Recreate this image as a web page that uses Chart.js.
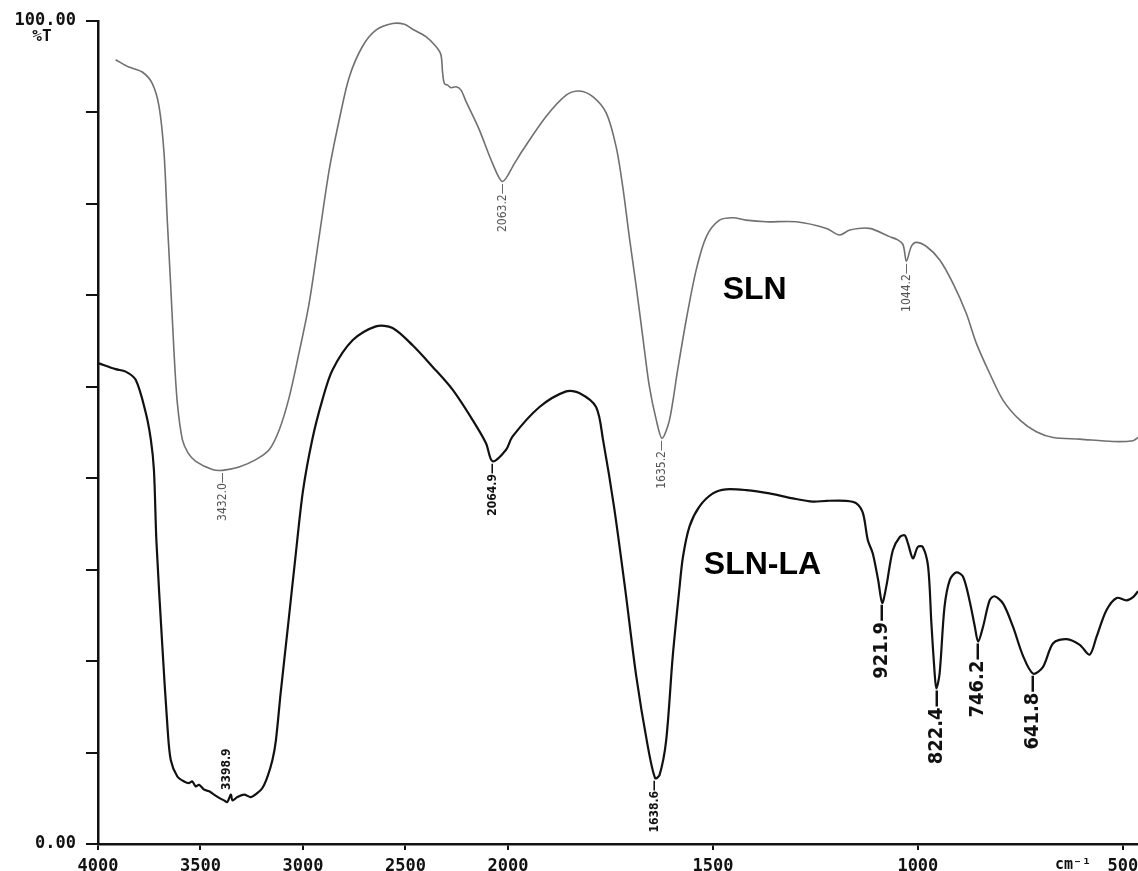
<!DOCTYPE html>
<html><head><meta charset="utf-8">
<script src="https://cdn.jsdelivr.net/npm/chart.js@4/dist/chart.umd.min.js"></script>
<style>html,body{margin:0;padding:0;background:#fff;} #wrap{width:1138px;height:871px;position:relative;}</style>
</head><body><div id="wrap"><canvas id="c" width="1138" height="871"></canvas></div>
<script>
// ---- data (wavenumber in cm-1, transmittance in %T) ----
const SLN_WAVENUMBER = [3914,3849,3784,3735,3702,3678,3662,3645,3629,3613,3588,3560,3523,3442,3393,3312,3230,3165,3116,3067,3019,2970,2921,2872,2823,2774,2710,2644,2563,2505,2465,2400,2351,2327,2319,2310,2294,2278,2253,2229,2204,2140,2075,2026,1984,1964,1907,1858,1826,1793,1760,1736,1720,1704,1687,1671,1655,1638,1624,1606,1586,1565,1541,1516,1484,1451,1419,1370,1297,1223,1191,1166,1118,1069,1049,1036,1028,1016,1004,979,947,914,882,857,825,792,751,711,670,605,524,475,463];
const SLN_T = [95.3,94.4,93.8,92.4,89.6,84.0,75.8,67.7,59.7,53.6,49.1,47.5,46.5,45.5,45.4,45.8,46.7,47.9,50.3,54.3,59.7,65.7,73.8,81.9,88.0,93.2,96.9,98.9,99.7,99.6,99.0,98.1,96.9,95.9,93.8,92.4,92.2,91.9,92.0,91.6,90.2,86.8,82.7,80.5,82.7,84.3,88.4,91.0,91.5,90.8,88.8,84.7,79.9,73.8,67.7,61.6,55.6,51.5,49.3,51.5,57.6,63.7,69.7,73.8,75.8,76.1,75.8,75.6,75.6,74.8,74.0,74.6,74.8,73.8,73.4,72.8,70.8,72.6,73.1,72.6,71.0,68.1,64.5,60.8,57.2,53.9,51.5,50.1,49.4,49.2,48.9,49.0,49.4];

const SLNLA_WAVENUMBER = [3995,3914,3865,3816,3767,3742,3727,3715,3687,3661,3645,3613,3580,3556,3540,3523,3507,3482,3458,3434,3409,3385,3369,3352,3344,3320,3287,3254,3222,3198,3173,3149,3132,3109,3073,3037,3000,2955,2906,2856,2758,2644,2563,2465,2368,2270,2172,2107,2075,2009,1989,1923,1858,1826,1785,1768,1741,1713,1687,1660,1641,1630,1614,1598,1582,1573,1557,1533,1500,1468,1419,1362,1305,1256,1223,1175,1150,1134,1122,1110,1097,1087,1077,1061,1044,1032,1024,1012,1000,988,975,967,959,955,947,935,922,906,890,874,861,853,841,825,813,792,768,743,719,695,670,637,605,581,564,540,515,491,475,463];
const SLNLA_T = [58.4,57.7,57.4,56.4,52.4,49.1,45.4,36.8,24.4,14.2,10.2,8.2,7.6,7.4,7.6,7.0,7.2,6.6,6.4,6.0,5.6,5.3,5.1,6.0,5.3,5.7,6.0,5.7,6.2,6.8,8.2,10.2,12.6,18.3,26.5,34.8,42.9,49.1,53.9,57.6,61.2,62.9,62.7,60.6,58.0,55.2,51.5,48.7,46.5,47.9,49.5,53.1,55.0,54.8,53.1,49.1,40.9,30.6,20.4,12.2,8.0,8.4,12.6,22.8,30.9,34.9,38.6,41.0,42.6,43.1,43.0,42.6,42.0,41.6,41.7,41.7,41.4,40.2,36.9,35.3,32.1,29.3,31.3,35.7,37.3,37.5,36.5,34.7,36.1,36.1,33.7,26.8,20.7,18.9,20.7,28.8,32.1,33.0,32.5,29.6,26.4,24.6,26.4,29.6,30.1,29.2,26.4,22.8,20.7,21.5,24.4,24.9,24.2,23.0,25.2,28.4,29.9,29.6,30.0,30.7];

const X_TICK_LABELS = [4000,3500,3000,2500,2000,1500,1000,500];
const X_START = 4000, X_END = 463;          // axis range in cm-1 (image cropped at right)
const X_BREAK = 2000, X_EXPAND = 2;         // scale doubles below 2000 cm-1
const Y_DIVISIONS = 9;

// peak annotations
const SLN_PEAK_LABELS = ['3432.0','2063.2','1635.2','1044.2'];
const SLN_PEAK_WN     = [3393,2026,1624,1028];
const SLN_PEAK_T      = [45.4,80.5,49.3,70.8];
const LA_SMALL_LABELS = ['2064.9','1638.6'];
const LA_SMALL_WN     = [2075,1641];
const LA_SMALL_T      = [46.5,8.0];
const LA_ABOVE_LABEL = '3398.9', LA_ABOVE_WN = 3369, LA_ABOVE_T = 5.1;
const LA_BOLD_LABELS = ['921.9','822.4','746.2','641.8'];
const LA_BOLD_WN     = [1087,955,853,719];
const LA_BOLD_T      = [29.3,18.9,24.6,20.7];
const SERIES_NAMES = ['SLN','SLN-LA'];
const SERIES_NAME_WN = [1398,1379];
const SERIES_NAME_T  = [67.3,33.9];

function toU(wn){ return wn >= X_BREAK ? (X_START - wn) : (X_START - X_BREAK) + (X_BREAK - wn) * X_EXPAND; }
function pts(wns, ts){ return wns.map((w,i)=>({x:toU(w), y:ts[i]})); }

const NARROW = "'Liberation Sans Narrow','DejaVu Sans Condensed','Liberation Sans',sans-serif";
const AXISFONT = "'DejaVu Sans Mono',monospace";

const textPlugin = {
  id:'texts',
  afterDraw(chart){
    const ctx = chart.ctx, xs = chart.scales.x, ys = chart.scales.y;
    const px = w => xs.getPixelForValue(toU(w)), py = t => ys.getPixelForValue(t);
    function vlabel(x, y, text, font, color, below, gap){
      ctx.save(); ctx.translate(x, y); ctx.rotate(-Math.PI/2);
      ctx.font = font; ctx.fillStyle = color; ctx.textBaseline = 'middle';
      if(below){ ctx.textAlign='right'; ctx.fillText(text, -gap, 0); }
      else { ctx.textAlign='left'; ctx.fillText(text, gap, 0); }
      ctx.restore();
    }
    SLN_PEAK_LABELS.forEach((l,i)=>vlabel(px(SLN_PEAK_WN[i]), py(SLN_PEAK_T[i]), l+'\u2014', "12px "+NARROW, '#555', true, 2));
    LA_SMALL_LABELS.forEach((l,i)=>vlabel(px(LA_SMALL_WN[i]), py(LA_SMALL_T[i]), l+'\u2014', "bold 12px "+NARROW, '#111', true, 2));
    vlabel(px(LA_ABOVE_WN), py(LA_ABOVE_T), LA_ABOVE_LABEL, "bold 12px "+NARROW, '#111', false, 12);
    LA_BOLD_LABELS.forEach((l,i)=>vlabel(px(LA_BOLD_WN[i]), py(LA_BOLD_T[i]), l+'\u2014', "bold 20px "+NARROW, '#111', true, 1));
    ctx.save();
    ctx.font = "bold 32px 'Liberation Sans',Arial,sans-serif"; ctx.fillStyle='#000';
    ctx.textAlign='center'; ctx.textBaseline='middle';
    SERIES_NAMES.forEach((n,i)=>ctx.fillText(n, px(SERIES_NAME_WN[i]), py(SERIES_NAME_T[i])));
    ctx.font = "bold 16px "+AXISFONT; ctx.fillStyle='#111';
    ctx.fillText('%T', 42, 37);
    ctx.font = "bold 15px "+AXISFONT; ctx.textBaseline='top';
    ctx.fillText('cm\u207B\u00B9', 1073, xs.top + 14);
    ctx.restore();
  }
};

new Chart(document.getElementById('c'), {
  type:'line',
  data:{ datasets:[
    { label:'SLN', data:pts(SLN_WAVENUMBER, SLN_T), borderColor:'#707070', borderWidth:1.6, pointRadius:0, tension:0.3, fill:false },
    { label:'SLN-LA', data:pts(SLNLA_WAVENUMBER, SLNLA_T), borderColor:'#111', borderWidth:2.2, pointRadius:0, tension:0.3, fill:false }
  ]},
  options:{
    responsive:false, animation:false, devicePixelRatio:1,
    layout:{padding:{top:21,right:0,left:0,bottom:0}},
    plugins:{legend:{display:false}, tooltip:{enabled:false}},
    scales:{
      x:{ type:'linear', min:toU(X_START), max:toU(X_END),
        afterBuildTicks: s => { s.ticks = X_TICK_LABELS.map(v=>({value:toU(v)})); },
        afterFit: s => { s.height = 27; s.paddingLeft = 0; s.paddingRight = 0; },
        ticks:{ callback:(v,i)=>String(X_TICK_LABELS[i]), autoSkip:false, maxRotation:0, padding:6,
                color:'#111', font:{family:AXISFONT, weight:'bold', size:17} },
        grid:{ drawOnChartArea:false, drawTicks:true, tickLength:6, color:'#111', lineWidth:2 },
        border:{ color:'#111', width:2.5 }
      },
      y:{ min:0, max:100,
        afterBuildTicks: s => { s.ticks = Array.from({length:Y_DIVISIONS+1},(_,i)=>({value:i*100/Y_DIVISIONS})); },
        afterFit: s => { s.width = 98; },
        ticks:{ callback:(v,i)=> i===0 ? '0.00' : (i===Y_DIVISIONS ? '100.00' : ''), autoSkip:false, padding:10,
                color:'#111', font:{family:AXISFONT, weight:'bold', size:17} },
        grid:{ drawOnChartArea:false, drawTicks:true, tickLength:12, color:'#111', lineWidth:2 },
        border:{ color:'#111', width:2.5 }
      }
    }
  },
  plugins:[textPlugin]
});
</script></body></html>
